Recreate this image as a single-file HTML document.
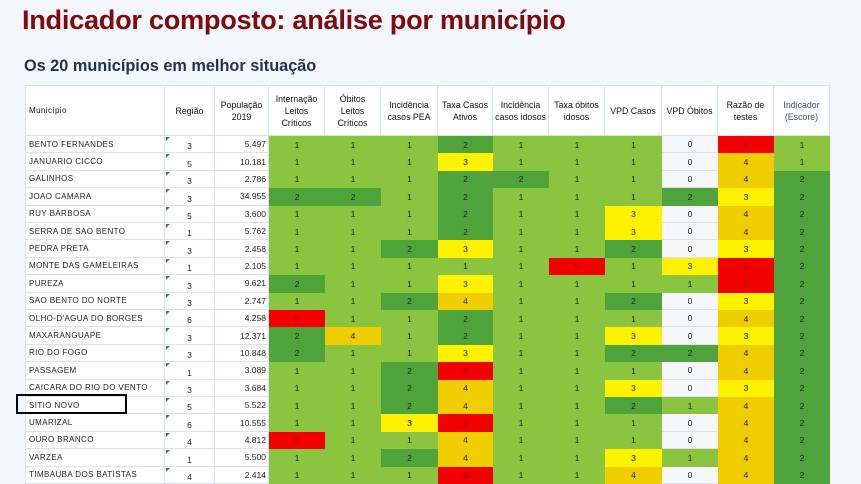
<!DOCTYPE html>
<html><head><meta charset="utf-8"><style>
body{margin:0;width:861px;height:484px;background:#f3f6fb;font-family:"Liberation Sans",sans-serif;position:relative;overflow:hidden}
h1{position:absolute;left:22px;top:4px;margin:0;font-size:27.2px;font-weight:bold;color:#7b0c10;letter-spacing:-0.3px;white-space:nowrap}
h2{position:absolute;left:24px;top:57px;margin:0;font-size:16.3px;font-weight:bold;color:#1f3350;white-space:nowrap}
.c{position:absolute;box-sizing:border-box;font-size:8.5px;color:#222;display:flex;align-items:center;justify-content:center;text-align:center;white-space:nowrap}
.w{background:#fff;border-right:1px solid #dde2ea;border-bottom:1px solid #dde2ea}
.h{line-height:12px;white-space:normal;color:#111;font-size:8.8px;padding:0 2px}
.m{justify-content:flex-start;padding-left:3px;letter-spacing:0.4px;font-size:8px}
.p{justify-content:flex-end;padding-right:2px}
.g{align-items:flex-end;padding-bottom:1px}
.g:before{content:"";position:absolute;left:1px;top:1px;border-top:4px solid #2e8b3a;border-right:4px solid transparent}
.c1{background:#8bc43f}.c2{background:#4ea43a}.c3{background:#fff200}.c4{background:#f0cd00}.c5{background:#f20000;color:#900}.c0{background:#f5f7fb;border-bottom:1px solid #dde2ea}
#box{position:absolute;left:16px;top:394px;width:107px;height:16px;border:2px solid #000}
</style></head><body>
<h1>Indicador composto: análise por município</h1>
<h2>Os 20 municípios em melhor situação</h2>
<div id="t"></div>
<div id="box"></div>
<script>
var W=[140,50,54,56,56,57,55,56,56,57,56,56,56],X=[25];for(var i=0;i<W.length;i++)X.push(X[i]+W[i]);
var H=["Município","Região","População 2019","Internação Leitos Críticos","Óbitos Leitos Críticos","Incidência casos PEA","Taxa Casos Ativos","Incidência casos idosos","Taxa óbitos idosos","VPD Casos","VPD Óbitos","Razão de testes","Indicador (Escore)"];
var d=[["BENTO FERNANDES",3,"5.497",[1,1,1,2,1,1,1,0,5,1]],
["JANUARIO CICCO",5,"10.181",[1,1,1,3,1,1,1,0,4,1]],
["GALINHOS",3,"2.786",[1,1,1,2,2,1,1,0,4,2]],
["JOAO CAMARA",3,"34.955",[2,2,1,2,1,1,1,2,3,2]],
["RUY BARBOSA",5,"3.600",[1,1,1,2,1,1,3,0,4,2]],
["SERRA DE SAO BENTO",1,"5.762",[1,1,1,2,1,1,3,0,4,2]],
["PEDRA PRETA",3,"2.458",[1,1,2,3,1,1,2,0,3,2]],
["MONTE DAS GAMELEIRAS",1,"2.105",[1,1,1,1,1,5,1,3,5,2]],
["PUREZA",3,"9.621",[2,1,1,3,1,1,1,1,5,2]],
["SAO BENTO DO NORTE",3,"2.747",[1,1,2,4,1,1,2,0,3,2]],
["OLHO-D'AGUA DO BORGES",6,"4.258",[5,1,1,2,1,1,1,0,4,2]],
["MAXARANGUAPE",3,"12.371",[2,4,1,2,1,1,3,0,3,2]],
["RIO DO FOGO",3,"10.848",[2,1,1,3,1,1,2,2,4,2]],
["PASSAGEM",1,"3.089",[1,1,2,5,1,1,1,0,4,2]],
["CAICARA DO RIO DO VENTO",3,"3.684",[1,1,2,4,1,1,3,0,3,2]],
["SITIO NOVO",5,"5.522",[1,1,2,4,1,1,2,1,4,2]],
["UMARIZAL",6,"10.555",[1,1,3,5,1,1,1,0,4,2]],
["OURO BRANCO",4,"4.812",[5,1,1,4,1,1,1,0,4,2]],
["VARZEA",1,"5.500",[1,1,2,4,1,1,3,1,4,2]],
["TIMBAUBA DOS BATISTAS",4,"2.414",[1,1,1,5,1,1,4,0,4,2]]];
var s="";function cell(cls,x,y,w,h,txt,st){s+='<div class="c '+cls+'" style="left:'+x+'px;top:'+y+'px;width:'+w+'px;height:'+h+'px;'+(st||'')+'">'+txt+'</div>';}
H.forEach(function(t,i){cell("w h"+(i==0?" m":""),X[i],85,W[i],51,t,(i==0?"border-left:1px solid #dde2ea;":"")+"border-top:1px solid #dde2ea;"+(i==12?"color:#2a4f8a;":""));});
d.forEach(function(r,j){var y=136+j*17.4,h=17.4;
cell("w m",X[0],y,W[0],h,r[0],"border-left:1px solid #dde2ea;");cell("w g",X[1],y,W[1],h,r[1]);cell("w p",X[2],y,W[2],h,r[2]);
r[3].forEach(function(v,i){cell("c"+v,X[i+3],y,W[i+3],h,v);});});
document.getElementById("t").innerHTML=s;
</script>
</body></html>
